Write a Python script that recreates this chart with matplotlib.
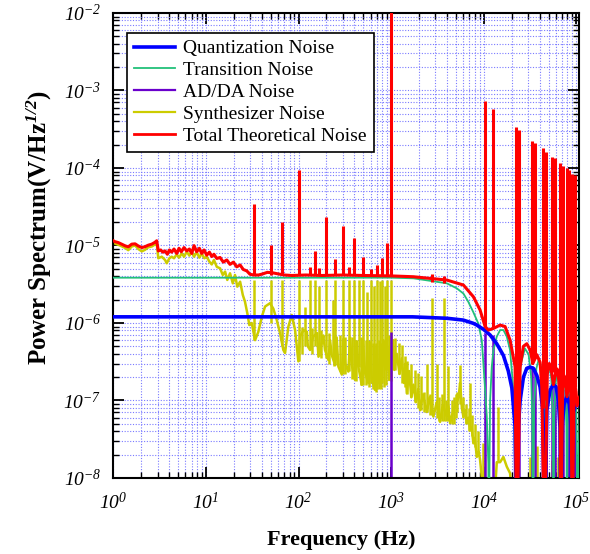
import math
import matplotlib
matplotlib.use("Agg")
import matplotlib.pyplot as plt
from matplotlib.lines import Line2D
from matplotlib.ticker import LogLocator, FuncFormatter, NullFormatter

# values (Hz, V/Hz^1/2); 1e-9 = below the axis
quant_freq = [1, 1700, 4000, 6000, 7700, 8400, 9900, 11700, 13800, 16300,
              18400, 20100, 21800, 22600, 23600, 24700, 26800, 29100, 31600, 34300,
              37400, 40500, 43400, 45200, 48000, 52000, 56400, 60400, 63900, 66500,
              67800, 70500, 73700, 78800, 84000, 87500, 90400, 92800, 99300, 108000]
quant_psd = [1.2e-6, 1.2e-6, 1.15e-6, 1.09e-6, 9.9e-7, 9.4e-7, 8.3e-7, 7.0e-7, 5.4e-7, 3.8e-7,
             2.4e-7, 1.45e-7, 4.6e-8, 1e-9, 4.6e-8, 1.0e-7, 2.0e-7, 2.6e-7, 2.7e-7, 2.6e-7,
             2.1e-7, 1.5e-7, 7.5e-8, 1e-9, 7.5e-8, 1.37e-7, 1.6e-7, 1.5e-7, 1.0e-7, 4.5e-8,
             1e-9, 5e-8, 9e-8, 1.12e-7, 9e-8, 4.5e-8, 1e-9, 7e-8, 9.2e-8, 8.5e-8]

trans_freq = [1, 1000, 1737, 3985, 5110, 6023, 6767, 7663, 8745, 9515, 9901, 10330, 10780, 11210, 11300,
              11700, 12200, 12700, 13800, 15000, 16300, 17700, 19200, 20600, 21400, 22600,
              23600, 25000, 27800, 30500, 32500, 33400, 33900,
              35000, 37000, 39500, 42000, 44200, 45200,
              46200, 48500, 51000, 53500, 55600, 56500,
              57600, 60000, 62000, 64500, 66800, 67800,
              69000, 71000, 73500, 76000, 78000, 79100,
              80300, 82500, 85000, 87500, 89500, 90400,
              91500, 94000, 96000, 99000, 101000, 101700, 108000]
trans_psd = [3.84e-6, 3.84e-6, 3.77e-6, 3.25e-6, 2.8e-6, 2.4e-6, 1.9e-6, 1.4e-6, 9.8e-7, 6.0e-7, 3.0e-7, 1.4e-7, 6.2e-8, 1.55e-8, 1e-9,
             1.0e-7, 2.73e-7, 4.48e-7, 6.66e-7, 8.1e-7, 8.1e-7, 6.7e-7, 4.5e-7, 1.67e-7, 3.8e-8, 1e-9,
             1.0e-7, 2.9e-7, 4.7e-7, 3.9e-7, 2.0e-7, 6e-8, 1e-9,
             9e-8, 2.6e-7, 3.5e-7, 2.6e-7, 8e-8, 1e-9,
             7e-8, 2.1e-7, 2.7e-7, 2.0e-7, 6e-8, 1e-9,
             6e-8, 1.8e-7, 2.2e-7, 1.6e-7, 5e-8, 1e-9,
             5.5e-8, 1.5e-7, 1.9e-7, 1.35e-7, 4.5e-8, 1e-9,
             5e-8, 1.3e-7, 1.6e-7, 1.1e-7, 4e-8, 1e-9,
             4.5e-8, 1.15e-7, 1.4e-7, 9e-8, 3e-8, 1e-9, 8e-8]

adda_freq = [1000, 10330, 12600, 22300, 23800, 32800, 35400, 43700, 47100,
             54700, 58900, 65900, 71000, 78400, 83400, 89900, 95600]
adda_psd = [7.7e-7, 7.5e-7, 7.0e-7, 3.5e-7, 3.3e-7, 2.8e-7, 2.6e-7, 2.2e-7, 2.0e-7,
            1.7e-7, 1.6e-7, 1.5e-7, 1.4e-7, 1.3e-7, 1.25e-7, 1.15e-7, 1.1e-7]

synth_freq = [1.0, 1.04, 1.18, 1.34, 1.45, 1.58, 1.72, 1.86, 2.03, 2.20,
              2.39, 2.60, 2.82, 2.94, 3.06, 3.33, 3.62, 3.77, 4.03, 4.27,
              4.52, 4.84, 5.12, 5.48, 5.80, 6.20, 6.62, 7.03, 7.44, 7.95,
              8.49, 9.01, 9.61, 10.2, 10.9, 11.55, 12.2, 13.1, 14.2, 15.2,
              16.1, 17.0, 18.2, 19.5, 20.6, 21.8, 23.4, 25.0, 26.4, 28.0, 29.4,
              31.2, 33.9, 36.8, 40.1, 43.5, 49.2, 53.4, 58.2, 63.1, 68.5,
              71.5, 77.6, 84.4, 91.7, 99.5, 104, 113, 123, 126, 133,
              144, 158.5, 164, 178, 185, 193, 210, 219, 228, 248,
              258, 269, 293, 305, 318, 345, 360, 375, 408, 425,
              442, 481, 497, 523, 567, 592, 617, 670, 699, 727,
              792, 824, 859, 910, 949,
              1050, 1080, 1150, 1230, 1300, 1378, 1430, 1474, 1560, 1650,
              1737, 1850, 1950, 2052, 2200, 2424, 2600, 2856, 3100, 3373,
              3600, 3985, 4150, 4326, 4700, 5110, 5350, 5546, 5800, 6023,
              6300, 6553, 6850, 7112, 7400, 7723, 8000, 8405, 8800, 9120,
              9510, 10300, 13000, 13820, 15000, 16280, 17720, 19230, 20200, 108000]
synth_psd = [1.07e-5, 1.06e-5, 1.0e-5, 9.3e-6, 8.7e-6, 9.7e-6, 1.0e-5, 9.0e-6, 8.4e-6, 8.8e-6,
             9.5e-6, 9.7e-6, 1.03e-5, 1.08e-5, 6.84e-6, 7.17e-6, 6.5e-6, 5.9e-6, 6.84e-6, 7.17e-6,
             6.84e-6, 7.7e-6, 6.97e-6, 7.9e-6, 7.17e-6, 8.3e-6, 7.4e-6, 8.3e-6, 7.17e-6, 8.2e-6,
             6.97e-6, 7.9e-6, 6.84e-6, 7.17e-6, 6.18e-6, 5.7e-6, 6.5e-6, 5.3e-6, 5.08e-6, 4.16e-6,
             4.6e-6, 3.59e-6, 4.38e-6, 3.25e-6, 4.16e-6, 2.94e-6, 3.41e-6, 2.3e-6, 1.88e-6, 1.33e-6, 9.4e-7,
             1.0e-6, 6.0e-7, 7.7e-7, 1.2e-6, 1.63e-6, 1.8e-6, 1.53e-6, 1.09e-6, 7.4e-7, 4.48e-7,
             4.1e-7, 8.96e-7, 1.27e-6, 8.1e-7, 3.2e-7, 6.7e-7, 8.1e-7, 7.7e-7, 5.0e-7, 4.48e-7,
             6.7e-7, 7.4e-7, 3.67e-7, 5.5e-7, 6.9e-7, 4.48e-7, 3.33e-7, 6.0e-7, 3.86e-7, 2.88e-7,
             6.5e-7, 2.74e-7, 2.16e-7, 6.2e-7, 3.0e-7, 2.36e-7, 6.5e-7, 2.88e-7, 1.84e-7, 5.8e-7,
             2.74e-7, 1.59e-7, 6.0e-7, 2.25e-7, 1.68e-7, 5.5e-7, 1.84e-7, 1.37e-7, 5.2e-7, 1.68e-7,
             1.77e-7, 6.0e-7, 2.74e-7, 5.0e-7, 1.84e-7,
             6.0e-7, 2.48e-7, 4.0e-7, 2.2e-7, 3.5e-7, 1.68e-7, 3.0e-7, 1.24e-7, 2.4e-7, 1.1e-7,
             1.6e-7, 9.5e-8, 1.4e-7, 7.5e-8, 1.2e-7, 7.1e-8, 1.1e-7, 6.2e-8, 9.5e-8, 5.3e-8,
             8.75e-8, 6.2e-8, 8.5e-8, 5.1e-8, 7.5e-8, 9.5e-8, 1.1e-7, 1.68e-7, 8e-8, 6.2e-8,
             7.5e-8, 5.1e-8, 6e-8, 4.16e-8, 4.5e-8, 2.8e-8, 3.3e-8, 1.87e-8, 2.2e-8, 1.71e-8,
             1.03e-8, 5e-9, 5e-9, 1.6e-8, 1.6e-8, 1.87e-8, 1.4e-8, 1.15e-8, 5e-9, 5e-9]

# tall synthesizer lines (harmonics) and the short ones that thicken the noise band
synth_spike_freq = [33.3, 50, 66.7, 100, 116.7, 133.3, 150, 166.7, 200, 233.3,
                    250, 300, 350, 400, 450, 500, 550, 600, 650, 700,
                    750, 800, 850, 900, 1000, 1100, 1200, 1300, 1400, 1500,
                    1650, 1800, 1950, 2100, 2420, 2790, 3100, 3720, 4140, 5550,
                    7110, 9900, 14380, 31600, 37400, 54000, 63000,
                    110, 140, 175, 215, 240, 280, 320, 380, 420, 470,
                    530, 580, 630, 680, 730, 780, 830, 870, 950,
                    2250, 2600, 3300, 3500, 3900, 4500, 4800, 5000, 5200, 6000,
                    6500, 7000, 7500, 8000, 8600]
synth_spike_base = [6.0e-7, 1.0e-6, 5e-7, 3.2e-7, 5e-7, 4.5e-7, 5e-7, 3.7e-7, 3.5e-7, 3.5e-7,
                    2.9e-7, 2.2e-7, 2.4e-7, 1.9e-7, 2.7e-7, 1.6e-7, 2e-7, 1.7e-7, 1.6e-7, 1.4e-7,
                    1.5e-7, 1.7e-7, 2.5e-7, 2.5e-7, 1.8e-7, 2.5e-7, 2.2e-7, 1.7e-7, 1.5e-7, 1.2e-7,
                    1.1e-7, 9.5e-8, 8e-8, 7.5e-8, 7e-8, 6.5e-8, 6e-8, 5.5e-8, 5.5e-8, 9e-8,
                    4e-8, 5e-9, 1.6e-8, 5e-9, 5e-9, 5e-9, 5e-9,
                    4.0e-7, 4.0e-7, 3.5e-7, 3.0e-7, 2.8e-7, 2.4e-7, 2.2e-7, 1.9e-7, 1.8e-7, 1.6e-7,
                    1.6e-7, 1.5e-7, 1.4e-7, 1.3e-7, 1.4e-7, 1.4e-7, 1.5e-7, 1.6e-7, 2.0e-7,
                    7.0e-8, 6.5e-8, 5.5e-8, 5.5e-8, 5.5e-8, 5.0e-8, 5.0e-8, 6.0e-8, 7.0e-8, 6.0e-8,
                    5.0e-8, 4.0e-8, 3.5e-8, 2.5e-8, 2.0e-8]
synth_spike_psd = [3.6e-6, 3.6e-6, 3.6e-6, 3.6e-6, 1.6e-6, 3.6e-6, 3.6e-6, 3.0e-6, 3.6e-6, 2.0e-6,
                   3.6e-6, 3.6e-6, 3.6e-6, 3.6e-6, 3.6e-6, 3.6e-6, 2.5e-6, 3.6e-6, 3.0e-6, 3.6e-6,
                   3.5e-6, 3.6e-6, 3.0e-6, 3.6e-6, 3.6e-6, 6.4e-7, 5.5e-7, 5.2e-7, 3.7e-7, 3.2e-7,
                   3.0e-7, 2.5e-7, 2.25e-7, 2.05e-7, 3.0e-7, 2.08e-6, 3.0e-7, 2.08e-6, 2.8e-7, 2.85e-7,
                   1.68e-7, 2.8e-8, 8.3e-8, 1.87e-8, 2.6e-8, 1.7e-8, 1.87e-8,
                   9.0e-7, 8.5e-7, 8.0e-7, 7.5e-7, 7.0e-7, 7.0e-7, 6.5e-7, 6.5e-7, 6.0e-7, 6.5e-7,
                   6.0e-7, 6.0e-7, 5.5e-7, 5.5e-7, 6.0e-7, 5.5e-7, 6.0e-7, 6.5e-7, 7.0e-7,
                   1.3e-7, 1.2e-7, 1.1e-7, 1.2e-7, 1.0e-7, 1.0e-7, 1.1e-7, 1.2e-7, 1.3e-7, 1.1e-7,
                   9.0e-8, 8.0e-8, 6.5e-8, 5.0e-8, 4.0e-8]

total_freq = [1.0, 1.04, 1.13, 1.23, 1.34, 1.45, 1.58, 1.72, 1.86, 2.03,
              2.20, 2.39, 2.60, 2.82, 2.94, 3.06, 3.25, 3.42, 3.62, 3.83,
              4.03, 4.27, 4.52, 4.84, 5.12, 5.42, 5.80, 6.20, 6.62, 7.03,
              7.44, 7.95, 8.49, 9.01, 9.54, 10.2, 10.9, 11.55, 12.2, 13.1,
              14.2, 15.4, 16.8, 18.2, 19.8, 21.5, 23.4, 25.3, 27.6, 29.9,
              33, 37, 41, 46, 52, 60, 70, 85, 120, 180,
              300, 500, 1000, 1740, 3990, 6020, 7720, 9120, 10330, 11210,
              12700, 15000, 16980, 19230, 21780, 22600, 24660, 26770, 29130, 31620,
              33900, 37370, 40550, 42300, 45200, 48500, 51000, 53500, 56500, 60000,
              62000, 64500, 66800, 67800, 71000, 73500, 76000, 79100, 82500, 85000,
              87500, 90400, 94000, 96000, 99000, 101700, 108000]
total_psd = [1.15e-5, 1.12e-5, 1.09e-5, 1.04e-5, 9.9e-6, 9.6e-6, 1.04e-5, 1.05e-5, 9.85e-6, 9.4e-6,
             9.65e-6, 1.01e-5, 1.04e-5, 1.1e-5, 1.15e-5, 8.5e-6, 8.75e-6, 8.2e-6, 8.5e-6, 7.7e-6,
             8.75e-6, 8.2e-6, 9.0e-6, 7.9e-6, 9.2e-6, 8.3e-6, 9.4e-6, 8.5e-6, 9.0e-6, 7.9e-6,
             9.95e-6, 8.3e-6, 9.2e-6, 7.9e-6, 8.75e-6, 7.5e-6, 8.2e-6, 7.2e-6, 7.7e-6, 6.8e-6,
             7.0e-6, 6.1e-6, 6.5e-6, 5.7e-6, 6.1e-6, 5.3e-6, 5.6e-6, 4.9e-6, 4.7e-6, 4.25e-6,
             4.16e-6, 4.16e-6, 4.3e-6, 4.5e-6, 4.45e-6, 4.3e-6, 4.16e-6, 4.1e-6, 4.16e-6, 4.1e-6,
             4.16e-6, 4.1e-6, 4.05e-6, 3.95e-6, 3.58e-6, 3.09e-6, 2.18e-6, 1.47e-6, 9.0e-7, 8.1e-7,
             8.5e-7, 9.4e-7, 9.0e-7, 6.0e-7, 2.73e-7, 1e-9, 2.7e-7, 5.0e-7, 5.4e-7, 4.5e-7,
             3.0e-7, 3.9e-7, 3.1e-7, 1.5e-7, 1e-9, 2.2e-7, 3.0e-7, 2.5e-7, 1.6e-7, 2.35e-7,
             2.55e-7, 1.85e-7, 6e-8, 1e-9, 1.6e-7, 2.1e-7, 1.7e-7, 1.12e-7, 1.65e-7, 1.75e-7,
             1.15e-7, 1e-9, 1.4e-7, 1.65e-7, 1.3e-7, 8.5e-8, 1.1e-7]

total_spike_freq = [33.3, 50, 66.7, 100, 133.3, 150, 166.7, 200, 250, 300,
                    350, 400, 500, 600, 700, 800, 900, 1000, 2790, 3720,
                    10330, 12600, 22300, 23800, 32800, 35400, 43700, 47100,
                    54700, 58900, 65900, 71000, 78400, 83400, 89900, 95600]
total_spike_base = [4.2e-6, 4.2e-6, 4.2e-6, 4.2e-6, 4.2e-6, 4.2e-6, 4.2e-6, 4.2e-6, 4.2e-6, 4.2e-6,
                    4.2e-6, 4.2e-6, 4.2e-6, 4.2e-6, 4.2e-6, 4.2e-6, 4.2e-6, 4.2e-6, 3.4e-6, 3.3e-6,
                    9.0e-7, 8.5e-7, 2e-8, 1e-7, 3.0e-7, 3.5e-7, 8e-8, 1e-7,
                    2.3e-7, 2.2e-7, 1.0e-7, 1.5e-7, 1.3e-7, 1.7e-7, 1e-8, 1.5e-7]
total_spike_psd = [3.43e-5, 1.01e-5, 2.03e-5, 9.5e-5, 5.2e-6, 8.5e-6, 5.1e-6, 2.35e-5, 6.6e-6, 1.79e-5,
                   5.3e-6, 1.24e-5, 7.2e-6, 5.0e-6, 5.6e-6, 6.8e-6, 1.07e-5, 1.2e-2, 4.3e-6, 4.0e-6,
                   7.3e-4, 5.8e-4, 3.4e-4, 3.1e-4, 2.2e-4, 2.1e-4, 1.8e-4, 1.6e-4,
                   1.4e-4, 1.35e-4, 1.15e-4, 1.05e-4, 1.0e-4, 9.3e-5, 8.3e-5, 8.0e-5]

labels = ['Quantization Noise', 'Transition Noise', 'AD/DA Noise',
          'Synthesizer Noise', 'Total Theoretical Noise']

BLU = '#0000ff'
GRN = '#22c07a'
PUR = '#6a00cc'
YEL = '#cccc00'
RED = '#ff0000'

plt.rcParams['font.family'] = ['Liberation Serif', 'DejaVu Serif']
plt.rcParams['font.style'] = 'italic'   # tick labels are italic
plt.rcParams['mathtext.fontset'] = 'custom'
plt.rcParams['mathtext.rm'] = 'Liberation Serif'
plt.rcParams['mathtext.it'] = 'Liberation Serif:italic'
plt.rcParams['mathtext.bf'] = 'Liberation Serif:bold'

fig = plt.figure(figsize=(5.9, 5.54), dpi=100)
ax = fig.add_axes([0.1907, 0.1372, 0.7915, 0.8394])

ax.plot(synth_freq, synth_psd, color=YEL, lw=1.8, zorder=2)
ax.vlines(synth_spike_freq, synth_spike_base, synth_spike_psd, color=YEL, lw=1.8, zorder=2)
ax.vlines(adda_freq, 1e-9, adda_psd, color=PUR, lw=1.8, zorder=2.5)
ax.plot(trans_freq, trans_psd, color=GRN, lw=1.3, zorder=3)
ax.plot(quant_freq, quant_psd, color=BLU, lw=2.6, zorder=4)
ax.plot(total_freq, total_psd, color=RED, lw=2.2, zorder=5)
ax.vlines(total_spike_freq, total_spike_base, total_spike_psd, color=RED, lw=2.2, zorder=5)

ax.set_xscale('log')
ax.set_yscale('log')
ax.set_xlim(0.98, 1.08e5)
ax.set_ylim(1e-8, 1e-2)

fmt = FuncFormatter(lambda v, p: r'$\mathdefault{10^{%d}}$' % round(math.log10(v)))
for axis in (ax.xaxis, ax.yaxis):
    axis.set_major_locator(LogLocator(base=10, numticks=12))
    axis.set_minor_locator(LogLocator(base=10, subs=range(2, 10), numticks=12))
    axis.set_major_formatter(fmt)
    axis.set_minor_formatter(NullFormatter())

ax.tick_params(which='both', direction='in', top=True, right=True, labelsize=14)
ax.tick_params(which='major', length=8, width=1.3)
ax.tick_params(which='minor', length=4, width=1.0)
ax.tick_params(axis='x', pad=10)
ax.tick_params(axis='y', pad=8)
for sp in ax.spines.values():
    sp.set_linewidth(1.5)

ax.grid(True, which='both', color='#7a7aff', lw=0.8, ls=(0, (1, 1.5)))
ax.set_axisbelow(True)

ax.set_xlabel('Frequency (Hz)', fontsize=16, fontweight='bold', fontstyle='normal')
ax.set_ylabel(r'Power Spectrum(V/Hz$^{\mathbf{1/2}}$)', fontsize=18, fontweight='bold',
              fontstyle='normal')
ax.xaxis.set_label_coords(0.489, -0.111)
ax.yaxis.set_label_coords(-0.125, 0.538)

handles = [Line2D([], [], color=BLU, lw=2.6), Line2D([], [], color=GRN, lw=1.3),
           Line2D([], [], color=PUR, lw=1.6), Line2D([], [], color=YEL, lw=1.6),
           Line2D([], [], color=RED, lw=2.0)]
leg = ax.legend(handles, labels, loc='upper left', bbox_to_anchor=(0.031, 0.957),
                borderaxespad=0, prop={'size': 14, 'style': 'normal'},
                handlelength=2.1, handletextpad=0.45, labelspacing=0.22, borderpad=0.35,
                fancybox=False, framealpha=1, edgecolor='black')
leg.get_frame().set_linewidth(1.2)
leg.set_zorder(10)

fig.savefig('out.png', dpi=100)
